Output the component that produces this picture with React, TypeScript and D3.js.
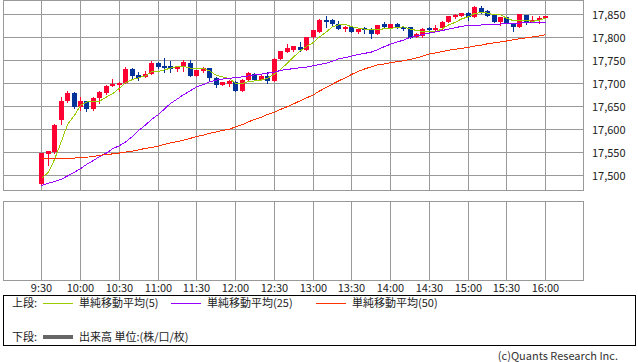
import { useEffect, useRef } from 'react';
import * as d3 from 'd3';

// 5-minute bars from 9:30 to 16:00 (79 bars)
const opens = [
  17481, 17547, 17551, 17620, 17662, 17679, 17650, 17662, 17644, 17668,
  17679, 17695, 17697, 17701, 17731, 17718, 17714, 17721, 17746, 17738,
  17739, 17731, 17739, 17746, 17716, 17727, 17734, 17713, 17698, 17700,
  17704, 17685, 17708, 17722, 17708, 17717, 17705, 17753, 17769, 17774,
  17781, 17774, 17801, 17813, 17838, 17838, 17831, 17820, 17824, 17812,
  17822, 17820, 17809, 17829, 17822, 17829, 17823, 17823, 17802, 17803,
  17821, 17818, 17821, 17835, 17845, 17848, 17855, 17845, 17866, 17859,
  17849, 17834, 17845, 17832, 17824, 17849, 17835, 17838, 17844,
];
const highs = [
  17550, 17554, 17612, 17670, 17685, 17681, 17670, 17663, 17671, 17684,
  17697, 17711, 17703, 17737, 17734, 17725, 17727, 17750, 17748, 17755,
  17750, 17738, 17752, 17752, 17730, 17737, 17734, 17714, 17704, 17708,
  17706, 17710, 17725, 17723, 17718, 17725, 17756, 17772, 17786, 17783,
  17791, 17802, 17817, 17841, 17848, 17841, 17837, 17826, 17826, 17821,
  17823, 17821, 17828, 17834, 17831, 17832, 17826, 17824, 17810, 17822,
  17823, 17828, 17836, 17848, 17852, 17855, 17857, 17869, 17869, 17860,
  17852, 17846, 17846, 17833, 17852, 17850, 17848, 17848, 17848,
];
const lows = [
  17479, 17522, 17550, 17613, 17661, 17647, 17643, 17641, 17643, 17658,
  17678, 17695, 17684, 17701, 17710, 17708, 17714, 17721, 17735, 17725,
  17725, 17727, 17727, 17716, 17716, 17725, 17707, 17693, 17697, 17694,
  17685, 17684, 17707, 17707, 17708, 17702, 17705, 17753, 17768, 17772,
  17772, 17774, 17800, 17812, 17823, 17828, 17819, 17814, 17812, 17811,
  17811, 17800, 17808, 17823, 17821, 17822, 17817, 17800, 17801, 17802,
  17812, 17818, 17820, 17835, 17844, 17847, 17838, 17845, 17855, 17847,
  17834, 17828, 17832, 17815, 17824, 17830, 17834, 17833, 17844,
];
const closes = [
  17549, 17553, 17611, 17663, 17679, 17649, 17663, 17644, 17669, 17683,
  17696, 17700, 17702, 17731, 17717, 17713, 17721, 17746, 17736, 17735,
  17733, 17738, 17747, 17716, 17729, 17735, 17712, 17698, 17703, 17706,
  17685, 17709, 17723, 17707, 17717, 17705, 17754, 17771, 17777, 17782,
  17774, 17801, 17816, 17839, 17834, 17830, 17819, 17824, 17812, 17820,
  17819, 17809, 17827, 17823, 17829, 17823, 17820, 17800, 17808, 17820,
  17818, 17821, 17835, 17847, 17850, 17853, 17846, 17867, 17857, 17847,
  17834, 17845, 17833, 17824, 17851, 17835, 17839, 17843, 17847,
];
const ma5 = [
  17494, 17507, 17535, 17575, 17611, 17631, 17653, 17660, 17661, 17662,
  17671, 17678, 17690, 17702, 17709, 17713, 17717, 17726, 17727, 17730,
  17734, 17738, 17738, 17734, 17733, 17733, 17728, 17718, 17715, 17711,
  17701, 17700, 17705, 17706, 17708, 17712, 17721, 17731, 17745, 17758,
  17772, 17781, 17790, 17802, 17813, 17824, 17828, 17829, 17824, 17821,
  17819, 17817, 17817, 17820, 17821, 17822, 17824, 17819, 17816, 17814,
  17813, 17813, 17820, 17828, 17834, 17841, 17846, 17853, 17855, 17854,
  17850, 17850, 17843, 17837, 17837, 17838, 17836, 17838, 17843,
];
const ma25 = [
  17478, 17483, 17487, 17492, 17499, 17507, 17515, 17524, 17533, 17541,
  17549, 17558, 17565, 17573, 17585, 17598, 17610, 17622, 17633, 17645,
  17657, 17667, 17676, 17685, 17693, 17698, 17704, 17708, 17710, 17712,
  17713, 17715, 17717, 17719, 17721, 17723, 17725, 17729, 17731, 17733,
  17735, 17736, 17739, 17742, 17745, 17749, 17754, 17757, 17760, 17764,
  17766, 17769, 17774, 17781, 17786, 17791, 17795, 17801, 17804, 17807,
  17810, 17813, 17816, 17819, 17822, 17825, 17827, 17827, 17828, 17829,
  17830, 17830, 17831, 17832, 17832, 17833, 17833, 17834, 17834,
];
const ma50 = [
  17537, 17536, 17536, 17536, 17537, 17538, 17539, 17540, 17541, 17544,
  17546, 17547, 17549, 17551, 17553, 17556, 17559, 17561, 17564, 17568,
  17571, 17574, 17577, 17581, 17585, 17588, 17592, 17595, 17598, 17601,
  17606, 17611, 17617, 17622, 17627, 17633, 17638, 17644, 17650, 17656,
  17663, 17669, 17676, 17684, 17692, 17699, 17706, 17713, 17720, 17727,
  17732, 17737, 17741, 17743, 17746, 17748, 17750, 17753, 17756, 17760,
  17765, 17767, 17770, 17773, 17775, 17777, 17779, 17782, 17784, 17787,
  17789, 17791, 17793, 17796, 17798, 17800, 17802, 17804, 17807,
];
const timeTicks = ['9:30', '10:00', '10:30', '11:00', '11:30', '12:00', '12:30', '13:00', '13:30', '14:00', '14:30', '15:00', '15:30', '16:00'];
const priceTicks = [17500, 17550, 17600, 17650, 17700, 17750, 17800, 17850];
const maLegend = [
  { label: '単純移動平均(5)', color: '#99cc00' },
  { label: '単純移動平均(25)', color: '#9900ff' },
  { label: '単純移動平均(50)', color: '#ff3300' },
];

const toMin = (s: string) => {
  const [h, m] = s.split(':').map(Number);
  return h * 60 + m;
};

export default function App() {
  const svgRef = useRef<SVGSVGElement>(null);

  useEffect(() => {
    if (!svgRef.current) return;
    const svg = d3.select(svgRef.current);
    svg.selectAll('*').remove();

    const font = '"Noto Sans CJK JP", "Noto Sans", sans-serif';
    const grid = '#999999';
    const up = '#ff0033';
    const down = '#003399';

    const x = d3.scaleLinear().domain([540, 990]).range([2.5, 584]);
    const y = d3.scaleLinear().domain([17500, 17850]).range([175.5, 14.85]);
    const barTime = (i: number) => toMin('9:30') + 5 * i;
    const px = (t: number) => Math.round(x(t)) + 0.5;

    const main = { left: 3.5, right: 583.5, top: 0.5, bottom: 190.5 };
    const lower = { top: 201.5, bottom: 280.5 };

    // grid, upper panel
    svg.append('g').selectAll('line')
      .data(priceTicks)
      .enter().append('line')
      .attr('x1', main.left).attr('x2', main.right)
      .attr('y1', d => Math.floor(y(d)) + 0.5)
      .attr('y2', d => Math.floor(y(d)) + 0.5)
      .attr('stroke', grid);

    [main, { ...main, top: lower.top, bottom: lower.bottom }].forEach(p => {
      svg.append('g').selectAll('line')
        .data(timeTicks)
        .enter().append('line')
        .attr('x1', d => px(toMin(d))).attr('x2', d => px(toMin(d)))
        .attr('y1', p.top).attr('y2', p.bottom)
        .attr('stroke', grid);
      svg.append('rect')
        .attr('x', p.left).attr('y', p.top)
        .attr('width', p.right - p.left).attr('height', p.bottom - p.top)
        .attr('fill', 'none').attr('stroke', grid);
    });

    // candles
    const idx = d3.range(opens.length);
    const candles = svg.append('g').attr('shape-rendering', 'crispEdges');
    candles.selectAll('line')
      .data(idx)
      .enter().append('line')
      .attr('x1', i => px(barTime(i))).attr('x2', i => px(barTime(i)))
      .attr('y1', i => Math.round(y(highs[i])))
      .attr('y2', i => Math.round(y(lows[i])) + 1)
      .attr('stroke', i => (closes[i] >= opens[i] ? up : down));
    candles.selectAll('rect')
      .data(idx)
      .enter().append('rect')
      .attr('x', i => Math.round(x(barTime(i))) - 2)
      .attr('width', 5)
      .attr('y', i => Math.round(y(Math.max(opens[i], closes[i]))))
      .attr('height', i => Math.max(2, Math.round(y(Math.min(opens[i], closes[i]))) - Math.round(y(Math.max(opens[i], closes[i])))))
      .attr('fill', i => (closes[i] >= opens[i] ? up : down));

    // moving averages
    [ma5, ma25, ma50].forEach((series, k) => {
      const line = d3.line<number>()
        .x((_, i) => Math.round(x(barTime(i))) + 0.5)
        .y(d => y(d));
      svg.append('path')
        .datum(series)
        .attr('fill', 'none')
        .attr('stroke', maLegend[k].color)
        .attr('stroke-width', 1)
        .attr('shape-rendering', 'crispEdges')
        .attr('d', line);
    });

    // labels
    svg.append('g').selectAll('text')
      .data(priceTicks)
      .enter().append('text')
      .attr('x', 592)
      .attr('y', d => Math.floor(y(d)) + 4.5)
      .style('font-family', font).style('font-size', '11px').style('fill', '#222')
      .text(d => d3.format(',')(d));

    svg.append('g').selectAll('text')
      .data(timeTicks)
      .enter().append('text')
      .attr('x', d => px(toMin(d)))
      .attr('y', 292)
      .attr('text-anchor', 'middle')
      .style('font-family', font).style('font-size', '11px').style('fill', '#222')
      .text(d => d);

    // legend
    svg.append('rect')
      .attr('x', 3.5).attr('y', 295.5).attr('width', 632).attr('height', 50)
      .attr('fill', 'none').attr('stroke', '#000');

    const lg = svg.append('g').style('font-family', font).style('font-size', '11px').style('fill', '#222');
    lg.append('text').attr('x', 12).attr('y', 307).text('上段:');
    const lx = [43, 171, 316];
    maLegend.forEach((m, i) => {
      lg.append('line')
        .attr('x1', lx[i]).attr('x2', lx[i] + 30)
        .attr('y1', 303.5).attr('y2', 303.5)
        .attr('stroke', m.color);
      lg.append('text').attr('x', lx[i] + 36).attr('y', 307).text(m.label);
    });
    lg.append('text').attr('x', 12).attr('y', 341).text('下段:');
    lg.append('line')
      .attr('x1', 43).attr('x2', 73)
      .attr('y1', 337).attr('y2', 337)
      .attr('stroke', '#666').attr('stroke-width', 4);
    lg.append('text').attr('x', 79).attr('y', 341).text('出来高 単位:(株/口/枚)');

    svg.append('text')
      .attr('x', 618).attr('y', 360)
      .attr('text-anchor', 'end')
      .style('font-family', font).style('font-size', '11px').style('fill', '#333')
      .text('(c)Quants Research Inc.');
  }, []);

  return (
    <svg
      ref={svgRef}
      width={638}
      height={362}
      style={{ position: 'absolute', left: 0, top: 0, background: '#fff' }}
    />
  );
}
